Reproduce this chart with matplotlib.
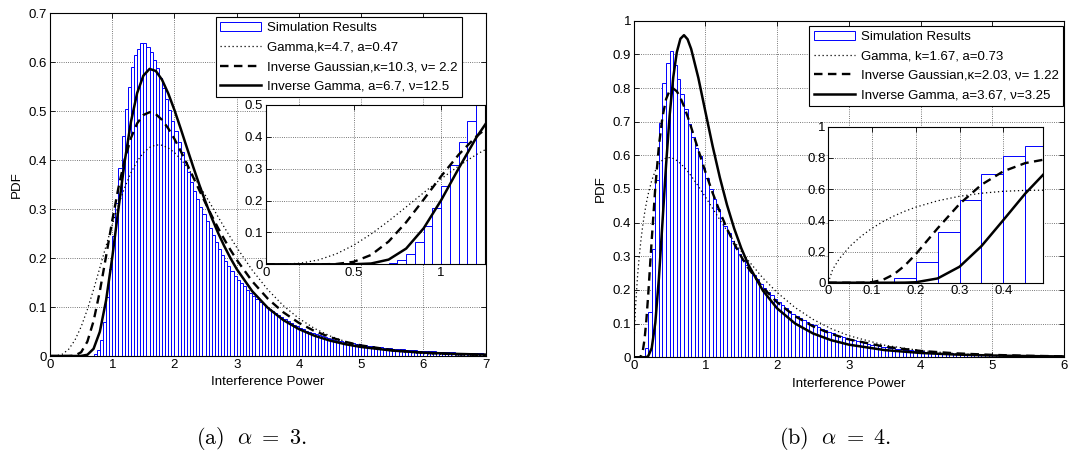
import numpy as np
import matplotlib
matplotlib.use('Agg')
import matplotlib.pyplot as plt
from matplotlib.ticker import MultipleLocator, FormatStrFormatter

plt.rcParams.update({
    'font.family': ['Liberation Sans', 'DejaVu Sans'],
    'mathtext.fontset': 'cm',
    'font.size': 9.5,
    'axes.linewidth': 0.8,
})

BIN = 0.05  # histogram bin width

# ---- (a) alpha = 3 ----
hist_a = [
    0, 0, 0, 0, 0, 0, 0, 0, 0, 0,
    0, 0, 0, 0.001, 0.004, 0.013, 0.033, 0.070, 0.120, 0.178,
    0.245, 0.313, 0.385, 0.449, 0.505, 0.550, 0.590, 0.615, 0.628, 0.640,
    0.640, 0.632, 0.620, 0.605, 0.588, 0.568, 0.547, 0.525, 0.503, 0.481,
    0.459, 0.438, 0.417, 0.396, 0.376, 0.356, 0.337, 0.320, 0.304, 0.290,
    0.276, 0.261, 0.247, 0.233, 0.219, 0.206, 0.194, 0.183, 0.173, 0.164,
    0.156, 0.149, 0.142, 0.135, 0.129, 0.123, 0.117, 0.111, 0.106, 0.101,
    0.096, 0.091, 0.087, 0.083, 0.079, 0.075, 0.071, 0.068, 0.064, 0.061,
    0.058, 0.055, 0.052, 0.049, 0.047, 0.044, 0.042, 0.040, 0.038, 0.036,
    0.034, 0.033, 0.031, 0.030, 0.029, 0.028, 0.027, 0.026, 0.025, 0.024,
    0.023, 0.022, 0.021, 0.020, 0.019, 0.018, 0.018, 0.017, 0.016, 0.016,
    0.015, 0.015, 0.014, 0.014, 0.013, 0.013, 0.012, 0.012, 0.011, 0.011,
    0.011, 0.010, 0.010, 0.010, 0.009, 0.009, 0.009, 0.008, 0.008, 0.008,
    0.007, 0.007, 0.007, 0.007, 0.006, 0.006, 0.006, 0.006, 0.006, 0.005,
]
x_a = [0, 0.1, 0.2, 0.3, 0.4, 0.5, 0.6, 0.7, 0.8, 0.9, 1.0,
       1.1, 1.2, 1.3, 1.4, 1.5, 1.6, 1.7, 1.8, 1.9, 2.0,
       2.1, 2.2, 2.3, 2.4, 2.5, 2.6, 2.7, 2.8, 2.9, 3.0,
       3.25, 3.5, 3.75, 4.0, 4.25, 4.5, 4.75, 5.0, 5.5, 6.0, 6.5, 7.0]
gamma_a = [0, 0.0004, 0.0038, 0.0138, 0.0324, 0.0598, 0.0950, 0.1358, 0.1799, 0.2248, 0.2683,
           0.3086, 0.3443, 0.3742, 0.3979, 0.4152, 0.4261, 0.4311, 0.4305, 0.4250, 0.4154,
           0.4022, 0.3862, 0.3680, 0.3482, 0.3274, 0.3060, 0.2844, 0.2630, 0.2421, 0.2218,
           0.1752, 0.1354, 0.1027, 0.0766, 0.0563, 0.0409, 0.0293, 0.0208, 0.0102, 0.0049, 0.0023, 0.0010]
invgauss_a = [0, 0, 0, 0, 0.0009, 0.0077, 0.0294, 0.0715, 0.1320, 0.2033, 0.2767,
              0.3443, 0.4013, 0.4452, 0.4752, 0.4923, 0.4980, 0.4940, 0.4823, 0.4649, 0.4432,
              0.4186, 0.3923, 0.3654, 0.3384, 0.3118, 0.2860, 0.2615, 0.2383, 0.2166, 0.1964,
              0.1524, 0.1170, 0.0892, 0.0676, 0.0510, 0.0384, 0.0288, 0.0216, 0.0121, 0.0067, 0.0037, 0.0021]
invgamma_a = [0, 0, 0, 0, 0, 0.0002, 0.0025, 0.0148, 0.0494, 0.1131, 0.2015,
              0.3013, 0.3975, 0.4782, 0.5372, 0.5727, 0.5865, 0.5822, 0.5642, 0.5362, 0.5021,
              0.4643, 0.4252, 0.3866, 0.3494, 0.3143, 0.2816, 0.2516, 0.2244, 0.1998, 0.1776,
              0.1321, 0.0983, 0.0733, 0.0549, 0.0414, 0.0314, 0.0240, 0.0184, 0.0111, 0.0069, 0.0044, 0.0028]
labels_a = ['Simulation Results', 'Gamma,k=4.7, a=0.47',
            'Inverse Gaussian,\u03ba=10.3, \u03bd= 2.2', 'Inverse Gamma, a=6.7, \u03bd=12.5']

# ---- (b) alpha = 4 ----
hist_b = [
    0, 0, 0, 0.028, 0.135, 0.323, 0.528, 0.697, 0.815, 0.875,
    0.910, 0.868, 0.826, 0.783, 0.737, 0.692, 0.655, 0.622, 0.598, 0.562,
    0.532, 0.500, 0.470, 0.440, 0.415, 0.390, 0.368, 0.346, 0.326, 0.307,
    0.290, 0.274, 0.260, 0.245, 0.232, 0.219, 0.207, 0.195, 0.184, 0.173,
    0.163, 0.154, 0.145, 0.137, 0.130, 0.123, 0.117, 0.111, 0.105, 0.100,
    0.095, 0.090, 0.085, 0.080, 0.075, 0.071, 0.067, 0.063, 0.059, 0.056,
    0.053, 0.050, 0.047, 0.044, 0.042, 0.040, 0.038, 0.036, 0.034, 0.032,
    0.030, 0.028, 0.027, 0.026, 0.024, 0.023, 0.022, 0.021, 0.020, 0.019,
    0.018, 0.017, 0.016, 0.015, 0.014, 0.014, 0.013, 0.012, 0.012, 0.011,
    0.011, 0.010, 0.010, 0.009, 0.009, 0.008, 0.008, 0.008, 0.007, 0.007,
    0.007, 0.006, 0.006, 0.006, 0.006, 0.005, 0.005, 0.005, 0.005, 0.005,
    0.004, 0.004, 0.004, 0.004, 0.004, 0.004, 0.003, 0.003, 0.003, 0.003,
]
x_b = [0, 0.01, 0.025, 0.05, 0.075, 0.1, 0.125, 0.15, 0.175, 0.2,
       0.25, 0.3, 0.35, 0.4, 0.45, 0.5, 0.55, 0.6, 0.65, 0.7, 0.75,
       0.8, 0.9, 1.0, 1.1, 1.2, 1.3, 1.4, 1.5, 1.6, 1.8, 2.0,
       2.25, 2.5, 2.75, 3.0, 3.5, 4.0, 4.5, 5.0, 5.5, 6.0]
gamma_b = [0, 0.0844, 0.1528, 0.2350, 0.2979, 0.3490, 0.3918, 0.4277, 0.4583, 0.4843,
           0.5252, 0.5541, 0.5737, 0.5859, 0.5920, 0.5933, 0.5906, 0.5846, 0.5760, 0.5652, 0.5528,
           0.5390, 0.5085, 0.4759, 0.4423, 0.4088, 0.3762, 0.3447, 0.3148, 0.2866, 0.2358, 0.1924,
           0.1478, 0.1127, 0.0853, 0.0642, 0.0359, 0.0198, 0.0108, 0.0058, 0.0031, 0.0017]
invgauss_b = [0, 0, 0, 0, 0, 0.0035, 0.0186, 0.0537, 0.1101, 0.1830,
              0.3491, 0.5050, 0.6281, 0.7141, 0.7667, 0.7928, 0.7986, 0.7901, 0.7714, 0.7457, 0.7159,
              0.6834, 0.6160, 0.5499, 0.4883, 0.4323, 0.3822, 0.3377, 0.2986, 0.2641, 0.2072, 0.1633,
              0.1221, 0.0920, 0.0698, 0.0532, 0.0315, 0.0190, 0.0117, 0.0072, 0.0045, 0.0029]
invgamma_b = [0, 0, 0, 0, 0, 0, 0, 0.0001, 0.0006, 0.0030,
              0.0275, 0.1026, 0.2346, 0.4014, 0.5711, 0.7188, 0.8316, 0.9064, 0.9463, 0.9570, 0.9449,
              0.9161, 0.8304, 0.7283, 0.6271, 0.5344, 0.4528, 0.3829, 0.3237, 0.2744, 0.1984, 0.1453,
              0.1004, 0.0709, 0.0511, 0.0376, 0.0214, 0.0129, 0.0081, 0.0053, 0.0036, 0.0025]
labels_b = ['Simulation Results', 'Gamma, k=1.67, a=0.73',
            'Inverse Gaussian,\u03ba=2.03, \u03bd= 1.22', 'Inverse Gamma, a=3.67, \u03bd=3.25']


def style_axes(ax, xlim, ylim, xstep, ystep):
    ax.set_xlim(*xlim)
    ax.set_ylim(*ylim)
    ax.xaxis.set_major_locator(MultipleLocator(xstep))
    ax.yaxis.set_major_locator(MultipleLocator(ystep))
    ax.xaxis.set_major_formatter(FormatStrFormatter('%g'))
    ax.yaxis.set_major_formatter(FormatStrFormatter('%g'))
    ax.tick_params(direction='in', top=True, right=True, length=3.5, width=0.6,
                   labelsize=9.5, pad=2)
    ax.grid(True, linestyle=':', linewidth=0.6, color='0.3')
    ax.set_axisbelow(True)


def draw_data(ax, hist, x, g, ig, igam):
    edges = np.arange(len(hist)) * BIN
    ax.bar(edges, hist, width=BIN, align='edge', facecolor='white',
           edgecolor='#0000ff', linewidth=0.7)
    ax.plot(x, g, color='black', linewidth=0.9, dashes=(1, 2.2))
    ax.plot(x, ig, color='black', linewidth=1.7, dashes=(3.6, 2.3))
    ax.plot(x, igam, color='black', linewidth=1.8)


def add_legend(ax, labels, anchor):
    leg = ax.legend(ax.containers[:1] + ax.lines, labels, loc='upper right',
                    bbox_to_anchor=anchor, bbox_transform=fig.transFigure,
                    fontsize=9.5, handlelength=3.1, handletextpad=0.45, borderpad=0.35,
                    labelspacing=0.55, fancybox=False, framealpha=1, edgecolor='black',
                    borderaxespad=0)
    leg.get_frame().set_linewidth(0.8)


fig = plt.figure(figsize=(10.69, 4.65), dpi=100)

# 왼쪽 (a)
ax_a = fig.add_axes([0.0468, 0.2344, 0.4075, 0.737])
draw_data(ax_a, hist_a, x_a, gamma_a, invgauss_a, invgamma_a)
style_axes(ax_a, (0, 7), (0, 0.7), 1, 0.1)
ax_a.set_xlabel('Interference Power', fontsize=9.6)
ax_a.set_ylabel('PDF', fontsize=9.6)
add_legend(ax_a, labels_a, (0.4325, 0.9628))

ins_a = fig.add_axes([0.2488, 0.4316, 0.2049, 0.3426])
draw_data(ins_a, hist_a, x_a, gamma_a, invgauss_a, invgamma_a)
style_axes(ins_a, (0, 1.25), (0, 0.5), 0.5, 0.1)

# 오른쪽 (b)
ax_b = fig.add_axes([0.5929, 0.2316, 0.4023, 0.7239])
draw_data(ax_b, hist_b, x_b, gamma_b, invgauss_b, invgamma_b)
style_axes(ax_b, (0, 6), (0, 1), 1, 0.1)
ax_b.set_xlabel('Interference Power', fontsize=9.6)
ax_b.set_ylabel('PDF', fontsize=9.6)
add_legend(ax_b, labels_b, (0.9944, 0.944))

ins_b = fig.add_axes([0.7748, 0.392, 0.2006, 0.3355])
draw_data(ins_b, hist_b, x_b, gamma_b, invgauss_b, invgamma_b)
style_axes(ins_b, (0, 0.49), (0, 1), 0.1, 0.2)

fig.text(0.2353, 1 - 438 / 465, r'$\mathrm{(a)}\ \ \alpha\ =\ 3.$', ha='center', va='center', fontsize=16)
fig.text(0.7816, 1 - 438 / 465, r'$\mathrm{(b)}\ \ \alpha\ =\ 4.$', ha='center', va='center', fontsize=16)

fig.savefig('out.png', dpi=100)
